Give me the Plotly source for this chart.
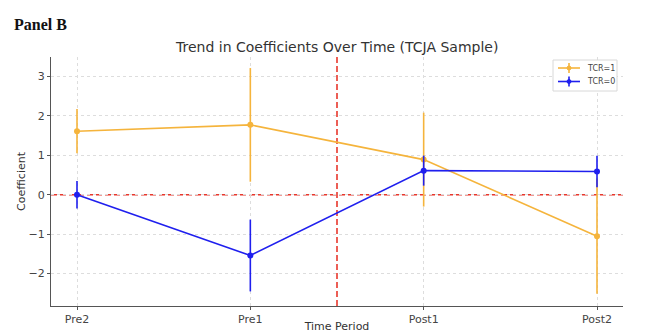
import plotly.graph_objects as go

# Event-time periods
periods = ["Pre2", "Pre1", "Post1", "Post2"]

# TCR=1 coefficients and error half-widths
coef_tcr1 = [1.61, 1.77, 0.89, -1.05]
err_tcr1 = [0.56, 1.44, 1.19, 1.46]

# TCR=0 coefficients and error half-widths
coef_tcr0 = [0.0, -1.54, 0.61, 0.59]
err_tcr0 = [0.35, 0.91, 0.38, 0.40]

yticks = [-2, -1, 0, 1, 2, 3]
ytick_text = ["\u22122", "\u22121", "0", "1", "2", "3"]

series_names = ["TCR=1", "TCR=0"]

x_idx = list(range(len(periods)))
orange = "#F5B43C"
blue = "#1F1FEE"
red = "#E8372C"
colors = [orange, blue]

W, H = 646, 333
L, R, T, B = 51, 23, 57, 27
pw, ph = W - L - R, H - T - B


def px_x(p):
    return (p - L) / pw


def px_y(p):
    return (H - B - p) / ph


fig = go.Figure()
for name, ys, errs, col in zip(series_names, [coef_tcr1, coef_tcr0],
                               [err_tcr1, err_tcr0], colors):
    fig.add_trace(go.Scatter(
        x=x_idx, y=ys, name=name, mode="lines+markers", showlegend=False,
        line=dict(color=col, width=1.6),
        marker=dict(color=col, size=6),
        error_y=dict(type="data", array=errs, color=col, thickness=1.6, width=0),
    ))

# Reference lines: zero effect and policy break between Pre1 and Post1
fig.add_shape(type="line", xref="paper", yref="y", x0=0, x1=1, y0=0, y1=0,
              line=dict(color=red, width=1.6, dash="6px,3px"), layer="between")
fig.add_shape(type="line", xref="x", yref="paper", x0=1.5, x1=1.5, y0=0, y1=1,
              line=dict(color=red, width=1.6, dash="6px,3px"), layer="between")

# Compact legend box in the upper-right corner
fig.add_shape(type="rect", xref="paper", yref="paper",
              x0=px_x(553), x1=px_x(617), y0=px_y(91), y1=px_y(60),
              line=dict(color="#d8d8d8", width=1), fillcolor="white", layer="above")
for i, (name, col) in enumerate(zip(series_names, colors)):
    cy = 68 + i * 13.5
    fig.add_shape(type="line", xref="paper", yref="paper",
                  x0=px_x(558), x1=px_x(580), y0=px_y(cy), y1=px_y(cy),
                  line=dict(color=col, width=1.6), layer="above")
    fig.add_shape(type="line", xref="paper", yref="paper",
                  x0=px_x(569), x1=px_x(569), y0=px_y(cy - 5), y1=px_y(cy + 5),
                  line=dict(color=col, width=1.6), layer="above")
    fig.add_shape(type="circle", xref="paper", yref="paper",
                  x0=px_x(567), x1=px_x(571), y0=px_y(cy + 2), y1=px_y(cy - 2),
                  line=dict(color=col, width=1), fillcolor=col, layer="above")
    fig.add_annotation(text=name, xref="paper", yref="paper",
                       x=px_x(585), y=px_y(cy), xanchor="left", yanchor="middle",
                       showarrow=False,
                       font=dict(family="DejaVu Sans", size=8, color="#444"))

axis_font = dict(family="DejaVu Sans", size=11, color="#444")

fig.update_layout(
    width=W, height=H,
    margin=dict(l=L, r=R, t=T, b=B),
    paper_bgcolor="white", plot_bgcolor="white",
    font=dict(family="DejaVu Sans", color="#333"),
    title=dict(text="Trend in Coefficients Over Time (TCJA Sample)",
               x=0.522, xanchor="center", y=0.858, yanchor="middle",
               font=dict(family="DejaVu Sans", size=14, color="#333")),
    showlegend=False,
    xaxis=dict(range=[-0.15, 3.15], tickvals=x_idx, ticktext=periods,
               automargin=False,
               showgrid=True, gridcolor="#dddddd", griddash="dot", gridwidth=1,
               showline=True, linecolor="#555", linewidth=1,
               ticks="outside", ticklen=3, tickcolor="#555",
               tickfont=axis_font, zeroline=False,
               title=dict(text="Time Period", standoff=2,
                          font=dict(family="DejaVu Sans", size=11, color="#333"))),
    yaxis=dict(range=[-2.82, 3.49], tickvals=yticks, ticktext=ytick_text,
               automargin=False,
               showgrid=True, gridcolor="#dddddd", griddash="dot", gridwidth=1,
               showline=True, linecolor="#555", linewidth=1,
               ticks="outside", ticklen=3, tickcolor="#555",
               tickfont=axis_font, zeroline=False,
               title=dict(text="Coefficient", standoff=0,
                          font=dict(family="DejaVu Sans", size=11, color="#333"))),
)

fig.add_annotation(text="<b>Panel B</b>", xref="paper", yref="paper",
                   x=px_x(12), y=px_y(25), xanchor="left", yanchor="middle",
                   showarrow=False,
                   font=dict(family="Liberation Serif", size=16, color="#111"))

fig.write_html("out.html")
